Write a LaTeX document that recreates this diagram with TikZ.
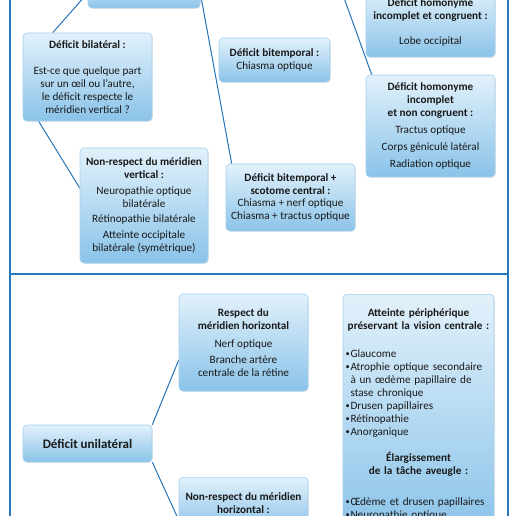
\documentclass[tikz,border=0pt]{standalone}
\usepackage{fontspec}
\setmainfont{Carlito}
\usetikzlibrary{shadows,calc,backgrounds}
\definecolor{frameblue}{RGB}{40,120,190}
\definecolor{linkblue}{RGB}{38,114,184}
\definecolor{boxtop}{RGB}{226,241,251}
\definecolor{boxbot}{RGB}{138,195,233}
\definecolor{boxline}{RGB}{165,208,238}
\definecolor{ink}{RGB}{25,25,25}
\newcommand\bul[1]{\par\hangindent=5pt\hangafter=1\noindent\makebox[5pt][l]{\raisebox{0.2ex}{\scalebox{0.75}{\textbullet}}}#1\par}
\begin{document}
\begin{tikzpicture}[x=1pt,y=-1pt,
  box/.style={draw=boxline, line width=0.6pt, rounded corners=4pt,
    top color=boxtop, bottom color=boxbot, text=ink, align=center,
    font=\fontsize{11.2}{13}\selectfont, inner sep=2pt,
    drop shadow={opacity=0.18, shadow xshift=0.8pt, shadow yshift=-0.8pt}},
  link/.style={draw=linkblue, line width=1pt},
  frameline/.style={draw=frameblue, line width=1.4pt}]
\useasboundingbox (0,0) rectangle (520,516);
\clip (0,0) rectangle (520,516);

% frame
\draw[frameline] (10,-20) -- (10,540);
\draw[frameline] (508,-20) -- (508,540);
\draw[frameline] (10,274) -- (508,274);

% boxes
\node[box, minimum width=112pt, minimum height=30pt] (top) at (144,-7) {};
\coordinate (homsrc) at (334,-30);

\node[box, minimum width=129pt, minimum height=88pt] (bil) at (87.5,77)
  {\textbf{Déficit bilatéral :}\\[13pt]Est-ce que quelque part\\sur un œil ou l’autre,\\le déficit respecte le\\méridien vertical ?};

\node[box, minimum width=111pt, minimum height=44pt] (bt) at (274.5,60)
  {\textbf{Déficit bitemporal :}\\Chiasma optique};

\node[box, minimum width=129pt, minimum height=69pt] (cong) at (430.5,22.5)
  {\textbf{Déficit homonyme}\\\textbf{incomplet et congruent :}\\[12pt]Lobe occipital};

\node[box, minimum width=129pt, minimum height=102pt] (nc) at (430.5,126)
  {\textbf{Déficit homonyme}\\\textbf{incomplet}\\\textbf{et non congruent :}\\[4pt]Tractus optique\\[4pt]Corps géniculé latéral\\[4pt]Radiation optique};

\node[box, minimum width=128pt, minimum height=115pt] (nrv) at (144,205.5)
  {\textbf{Non-respect du méridien}\\\textbf{vertical :}\\[3pt]Neuropathie optique\\bilatérale\\[2pt]Rétinopathie bilatérale\\[3pt]Atteinte occipitale\\bilatérale (symétrique)};

\node[box, minimum width=129pt, minimum height=67pt, font=\fontsize{11.2}{12.4}\selectfont] (sco) at (290.5,197.5)
  {\textbf{Déficit bitemporal +}\\\textbf{scotome central :}\\Chiasma + nerf optique\\Chiasma + tractus optique};

\node[box, minimum width=129pt, minimum height=37pt, font=\fontsize{13}{15}\selectfont\bfseries] (uni) at (87.5,443.5)
  {Déficit unilatéral};

\node[box, minimum width=129pt, minimum height=97pt] (resp) at (243.5,342.5)
  {\textbf{Respect du}\\\textbf{méridien horizontal}\\[5pt]Nerf optique\\[3pt]Branche artère\\centrale de la rétine};

\node[box, minimum width=129pt, minimum height=52pt, anchor=north] (nrh) at (243.5,477)
  {\textbf{Non-respect du méridien}\\\textbf{horizontal :}};

\node[box, minimum width=151pt, text width=146pt, inner xsep=2.5pt, inner ysep=10pt,
      minimum height=240pt, align=left, anchor=north] (big) at (418.5,294)
  {{\centering\bfseries Atteinte périphérique\\préservant la vision centrale :\par}
   \vspace{15pt}
   \bul{Glaucome}
   \bul{Atrophie optique secondaire\newline à un œdème papillaire de\newline stase chronique}
   \bul{Drusen papillaires}
   \bul{Rétinopathie}
   \bul{Anorganique}
   \vspace{13pt}
   {\centering\bfseries Élargissement\\de la tâche aveugle :\par}
   \vspace{18pt}
   \bul{Œdème et drusen papillaires}
   \bul{Neuropathie optique}};

% connectors
\begin{scope}[on background layer]
\clip (0,0) rectangle (520,516);
\draw[link] (top.west) -- ([xshift=30pt]bil.north west);
\draw[link] (top.east) -- ([xshift=6pt]sco.north west);
\draw[link] (homsrc) -- ([xshift=6pt]nc.north west);
\draw[link] ([xshift=16pt]bil.south west) -- ([yshift=17.5pt]nrv.west);
\draw[link] (uni.north east) -- ([yshift=-17.5pt]resp.west);
\draw[link] (uni.south east) -- ([yshift=-43pt]nrh.north west);
\end{scope}
\end{tikzpicture}
\end{document}
